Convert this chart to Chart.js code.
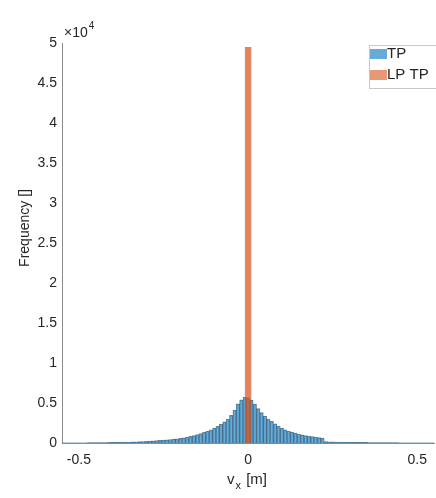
<!DOCTYPE html>
<html>
<head>
<meta charset="utf-8">
<script src="https://cdn.jsdelivr.net/npm/chart.js@4/dist/chart.umd.min.js"></script>
<style>
  html, body { margin: 0; padding: 0; background: #fff; }
</style>
</head>
<body>
<canvas id="histChart" width="436" height="498"></canvas>
<script>
"use strict";

// TP histogram: bins of 0.01 m starting at -0.55 m (bin centres)
const binStart = -0.55;
const binWidth = 0.01;
const tpCounts = [
  20, 20, 25, 25, 30, 30, 35, 35, 40, 45,            // -0.55 .. -0.46
  50, 55, 60, 65, 70, 80, 85, 95, 105, 115,          // -0.45 .. -0.36
  125, 140, 155, 170, 190, 210, 235, 260, 290, 320,  // -0.35 .. -0.26
  360, 400, 440, 480, 530, 580, 650, 730, 820, 920,  // -0.25 .. -0.16
  1040, 1170, 1320, 1480, 1660, 1850, 2080, 2350, 2650, 3000, // -0.15 .. -0.06
  3450, 4100, 4900, 5400, 5750,                      // -0.05 .. -0.01
  5650,                                              // 0
  5350, 4850, 4300, 3800, 3350, 3000, 2700, 2400, 2100, 1850, // 0.01 .. 0.10
  1650, 1480, 1350, 1230, 1120, 1020, 940, 870, 800, 740,     // 0.11 .. 0.20
  680, 600, 180, 160, 145, 130, 120, 110, 100, 95,   // 0.21 .. 0.30
  90, 85, 80, 75, 70, 65, 60, 55, 52, 50,            // 0.31 .. 0.40
  46, 43, 40, 37, 34, 32, 30, 28, 26, 24,            // 0.41 .. 0.50
  22, 20, 20, 18, 18                                 // 0.51 .. 0.55
];

// LP TP histogram (one bin around zero)
const lpBins = [0];
const lpCounts = [49500];

const seriesNames = ['TP', 'LP TP'];
const xTicks = [-0.5, 0, 0.5];
const yTicks = [0, 5000, 10000, 15000, 20000, 25000, 30000, 35000, 40000, 45000, 50000];

const tpData = tpCounts.map((c, i) => ({ x: +(binStart + i * binWidth).toFixed(3), y: c }));
const lpData = lpCounts.map((c, i) => ({ x: lpBins[i], y: c }));

const FONT = '"Liberation Sans", Arial, Helvetica, sans-serif';
const TEXT = '#262626';

// axis labels, exponent and legend drawn in MATLAB style
const extras = {
  id: 'extras',
  afterDraw(chart) {
    const ctx = chart.ctx;
    const area = chart.chartArea;
    ctx.save();
    ctx.fillStyle = TEXT;

    // x10^4
    ctx.textAlign = 'left';
    ctx.textBaseline = 'alphabetic';
    ctx.font = '14px ' + FONT;
    ctx.fillText('\u00d710', area.left + 2, area.top - 6);
    let w = ctx.measureText('\u00d710').width;
    ctx.font = '10px ' + FONT;
    ctx.fillText('4', area.left + 3 + w, area.top - 14);

    // y title
    ctx.save();
    ctx.translate(25, 228);
    ctx.rotate(-Math.PI / 2);
    ctx.textAlign = 'center';
    ctx.textBaseline = 'middle';
    ctx.font = '14px ' + FONT;
    ctx.fillText('Frequency []', 0, 0);
    ctx.restore();

    // x title: v_x [m]
    ctx.textAlign = 'left';
    ctx.font = '15px ' + FONT;
    let x0 = 227;
    ctx.fillText('v', x0, 484);
    x0 += ctx.measureText('v').width + 1;
    ctx.font = '11px ' + FONT;
    ctx.fillText('x', x0, 489);
    x0 += ctx.measureText('x').width + 1;
    ctx.font = '15px ' + FONT;
    ctx.fillText(' [m]', x0, 484);

    // legend
    ctx.fillStyle = '#ffffff';
    ctx.fillRect(369, 45, 70, 43);
    ctx.strokeStyle = '#c8c8c8';
    ctx.lineWidth = 1;
    ctx.strokeRect(369.5, 45.5, 70, 43);
    const swatch = ['rgba(0,114,189,0.6)', 'rgba(217,83,25,0.6)'];
    const rows = [54, 75];
    ctx.font = '15px ' + FONT;
    ctx.textBaseline = 'middle';
    for (let i = 0; i < seriesNames.length; i++) {
      ctx.fillStyle = swatch[i];
      ctx.fillRect(370, rows[i] - 5, 17, 10);
      ctx.fillStyle = TEXT;
      ctx.fillText(seriesNames[i], 387, rows[i]);
    }
    ctx.restore();
  }
};

const histCtx = document.getElementById('histChart').getContext('2d');
let histChart = new Chart(histCtx, {
  type: 'bar',
  data: {
    datasets: [
      {
        label: seriesNames[1],
        data: lpData,
        backgroundColor: 'rgba(217,83,25,0.72)',
        borderColor: 'rgba(90,30,10,0.7)',
        borderWidth: 0.6,
        barPercentage: 2,
        categoryPercentage: 1,
        grouped: false,
        order: 0
      },
      {
        label: seriesNames[0],
        data: tpData,
        backgroundColor: 'rgba(0,114,189,0.6)',
        borderColor: 'rgba(0,0,0,0.45)',
        borderWidth: 0.5,
        barPercentage: 1,
        categoryPercentage: 1,
        grouped: false,
        order: 1
      }
    ]
  },
  options: {
    responsive: false,
    animation: false,
    layout: { padding: { top: 43, right: 0, left: 0, bottom: 0 } },
    plugins: { legend: { display: false }, tooltip: { enabled: false } },
    scales: {
      x: {
        type: 'linear',
        min: -0.55,
        max: 0.55,
        offset: false,
        afterBuildTicks: s => { s.ticks = xTicks.map(v => ({ value: v })); },
        afterFit: s => { s.height = 55; },
        grid: { display: false, drawTicks: false, offset: false },
        border: { color: '#8a8a8a' },
        ticks: {
          padding: 9, color: TEXT, maxRotation: 0, autoSkip: false,
          font: { family: FONT, size: 14 },
          callback: v => String(v)
        }
      },
      y: {
        min: 0,
        max: 50000,
        afterBuildTicks: s => { s.ticks = yTicks.map(v => ({ value: v })); },
        afterFit: s => { s.width = 62; },
        grid: { display: false, drawTicks: false },
        border: { color: '#8a8a8a' },
        ticks: {
          padding: 5, color: TEXT,
          font: { family: FONT, size: 14 },
          callback: v => String(v / 1e4)
        }
      }
    }
  },
  plugins: [extras]
});
</script>
</body>
</html>
